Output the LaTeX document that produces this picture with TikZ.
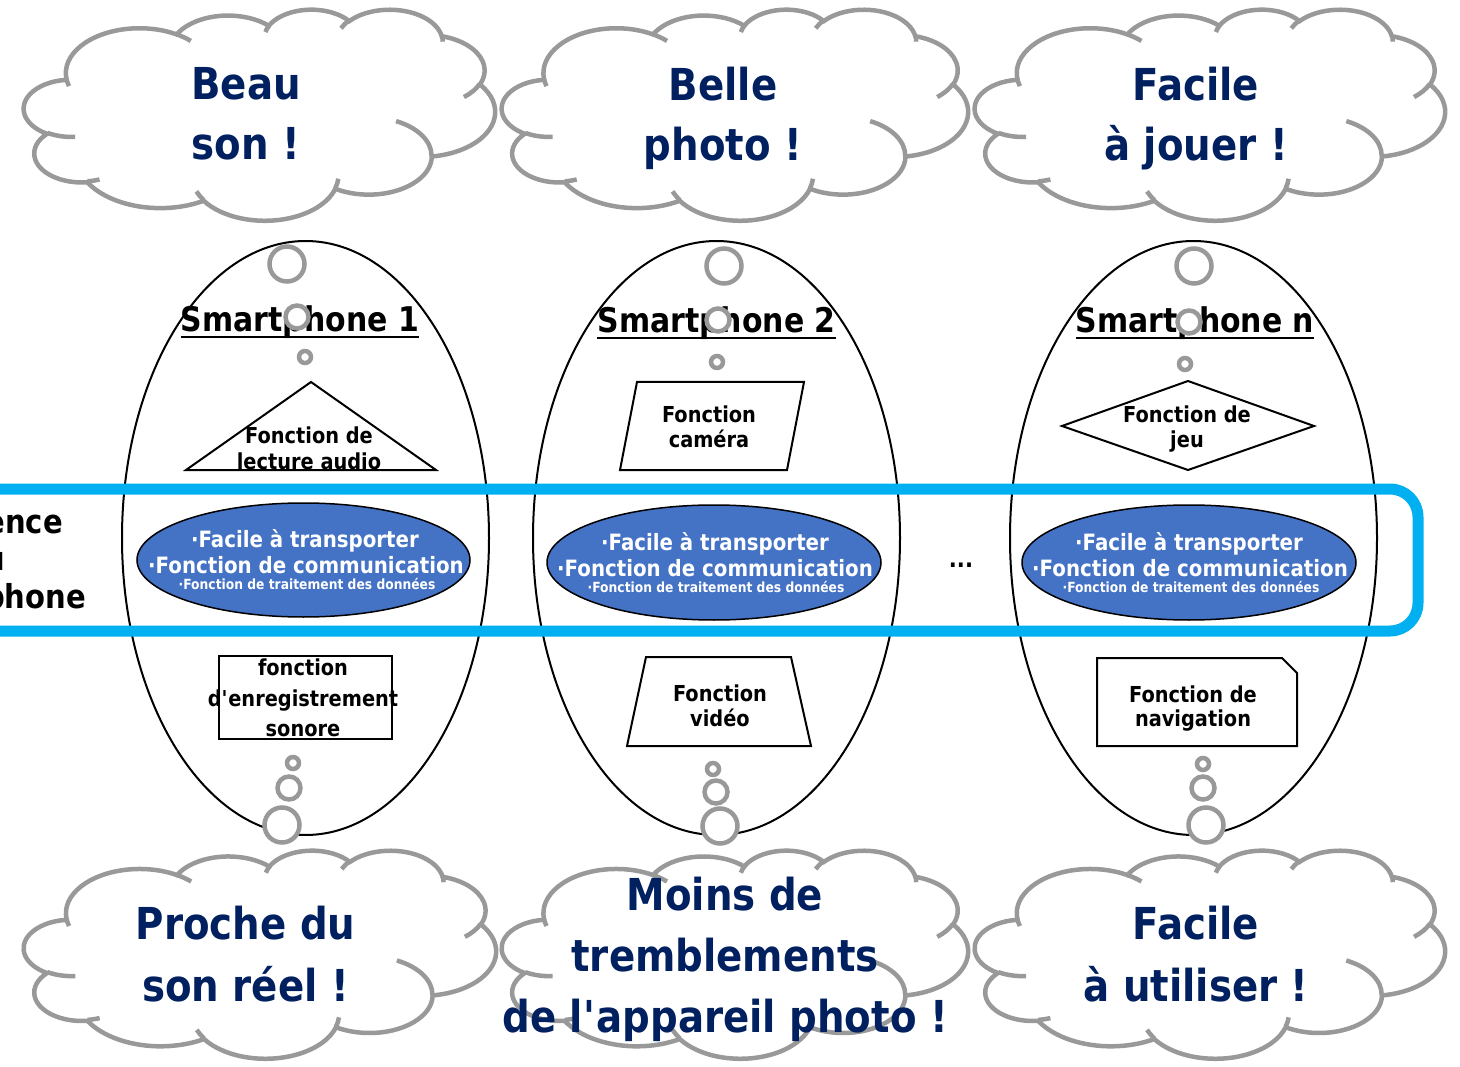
\documentclass[tikz,border=0pt]{standalone}
\usepackage{fontspec}
\setmainfont{DejaVu Sans}[FakeStretch=0.88]
\usetikzlibrary{shapes.geometric}
\definecolor{cgray}{HTML}{999999}
\definecolor{navy}{HTML}{002060}
\definecolor{pblue}{HTML}{4472C4}
\definecolor{cyanb}{HTML}{00B0F0}
% elliptical arc with OOXML "visual" angles
\newcommand\carc[4]{arc[x radius=#1, y radius=#2, start angle={atan2((#1)*sin(#3),(#2)*cos(#3))}, delta angle={mod(atan2((#1)*sin((#3)+(#4)),(#2)*cos((#3)+(#4)))-atan2((#1)*sin(#3),(#2)*cos(#3))+720,360)}]}
\newcommand\drawcloud[4]{%
\begin{scope}[shift={(#1,#2)}, xscale=#3/43.2, yscale=#4/43.2]
\draw[cloudline, fill=white] (3.9,14.37)
 \carc{6.753}{9.19}{-190.48748}{123.78053}
 \carc{5.333}{7.267}{-144.10238}{89.94523}
 \carc{4.365}{5.945}{-145.80792}{99.72302}
 \carc{4.857}{6.595}{-130.98607}{117.24173}
 \carc{5.333}{7.273}{-78.70888}{109.02692}
 \carc{6.775}{9.22}{-46.26725}{130.269}
 \carc{5.785}{7.867}{0.62502}{114.03333}
 \carc{6.752}{9.215}{22.4516}{115.17255}
 \carc{7.72}{10.543}{66.24263}{75.71102}
 \carc{4.36}{5.918}{-274.94208}{146.73557}
 \carc{4.345}{5.945}{-246.8285}{152.51885} -- cycle;
\draw[cloudline]
 (4.693,26.177) \carc{4.345}{5.945}{86.742}{26.4295}
 (6.928,34.899) \carc{4.36}{5.918}{73.6105}{11.4475}
 (16.478,39.09) \carc{6.752}{9.215}{137.6242}{14.0811}
 (28.827,34.751) \carc{6.752}{9.215}{6.4533}{15.9984}
 (34.129,22.954) \carc{5.785}{7.867}{-70.2924}{70.9174}
 (41.798,15.354) \carc{5.333}{7.273}{30.318}{27.7515}
 (38.324,5.426) \carc{4.857}{6.595}{-13.7443}{14.8589}
 (29.078,3.952) \carc{4.857}{6.595}{-149.1815}{18.1954}
 (22.141,4.72) \carc{4.365}{5.945}{-163.4943}{17.8371}
 (14,5.192) \carc{6.753}{9.19}{-66.707}{12.3194}
 (4.127,15.789) \carc{6.753}{9.19}{157.6544}{11.8582};
\end{scope}}
\begin{document}
\begin{tikzpicture}[x=1pt,y=-1pt,
  cloudline/.style={draw=cgray, line width=4.5pt},
  tailc/.style={draw=cgray, line width=4.5pt, fill=white},
  bigell/.style={draw=black, line width=2pt, ellipse, inner sep=0pt},
  blueell/.style={draw=black, line width=1.5pt, fill=pblue, ellipse, inner sep=0pt},
  fshape/.style={draw=black, line width=2pt, line join=miter},
  ctext/.style={text=navy, align=center, inner sep=0pt, font=\bfseries\fontsize{44}{60}\selectfont},
  ttext/.style={text=black, inner sep=0pt, anchor=base, font=\bfseries\fontsize{34}{38}\selectfont},
  stext/.style={text=black, align=center, inner sep=0pt, font=\bfseries\fontsize{22}{25}\selectfont},
  btext/.style={text=white, inner sep=0pt, anchor=base, font=\bfseries\fontsize{22.5}{26}\selectfont},
  bsmall/.style={text=white, inner sep=0pt, anchor=base, font=\bfseries\fontsize{14}{16}\selectfont},
  ltext/.style={text=black, inner sep=0pt, anchor=base east, font=\bfseries\fontsize{33}{38}\selectfont},
  uline/.style={draw=black, line width=1.5pt}]
\useasboundingbox (0,0) rectangle (1460,1067);
\fill[white] (0,0) rectangle (1460,1067);
\clip (0,0) rectangle (1460,1067);

% big ellipses
\node[bigell, minimum width=367pt, minimum height=594pt] (E1) at (305.5,538) {};
\node[bigell, minimum width=367pt, minimum height=594pt] (E2) at (716.5,538) {};
\node[bigell, minimum width=367pt, minimum height=594pt] (E3) at (1193.5,538) {};

% titles
\node[ttext] (T1) at (300,332) {Smartphone 1};
\node[ttext] (T2) at (716.5,333) {Smartphone 2};
\node[ttext] (T3) at (1195,333) {Smartphone n};
\foreach \t in {T1,T2,T3}
  \draw[uline] ([yshift=-5pt]\t.base west) -- ([yshift=-5pt]\t.base east);

% function shapes
\draw[fshape] (311,382) -- (436,470) -- (186,470) -- cycle;
\node[stext, font=\bfseries\fontsize{22}{26}\selectfont] (F1) at (309,448.7) {Fonction de\\lecture audio};
\draw[fshape] (637,382) -- (804,382) -- (787,470) -- (620,470) -- cycle;
\node[stext] (F2) at (709,426.7) {Fonction\\caméra};
\draw[fshape] (1188,381) -- (1314,426) -- (1188,470) -- (1062,426) -- cycle;
\node[stext] (F3) at (1187,428.8) {Fonction de\\jeu};
\draw[fshape] (219,656) rectangle (392,739);
\node[stext, font=\bfseries\fontsize{22}{30.5}\selectfont] (G1) at (303,698) {fonction\\d\textquotesingle{}enregistrement\\sonore};
\draw[fshape] (646,657) -- (791,657) -- (811,746) -- (627,746) -- cycle;
\node[stext] (G2) at (720,705.7) {Fonction\\vidéo};
\draw[fshape] (1097,658) -- (1282,658) -- (1297,673) -- (1297,746) -- (1097,746) -- cycle;
\node[stext, font=\bfseries\fontsize{22}{24}\selectfont] (G3) at (1193,708.3) {Fonction de\\navigation};

% cyan band
\draw[cyanb, line width=11pt, rounded corners=28pt] (-80,489) rectangle (1418,631);
\node[ltext] (L1) at (63,533) {Essence};
\node[ltext] (L2) at (5,570) {du};
\node[ltext] (L3) at (86,608) {Smartphone};

% blue ellipses
\node[blueell, minimum width=333pt, minimum height=114pt] (B1) at (303.5,560) {};
\node[blueell, minimum width=334pt, minimum height=115pt] (B2) at (714,562.5) {};
\node[blueell, minimum width=334pt, minimum height=115pt] (B3) at (1189,562.5) {};
\node[btext] (B1a) at (305,547) {·Facile à transporter};
\node[btext] (B1b) at (306,573) {·Fonction de communication};
\node[bsmall] (B1c) at (307,589) {·Fonction de traitement des données};
\node[btext] (B2a) at (715,550) {·Facile à transporter};
\node[btext] (B2b) at (715,576) {·Fonction de communication};
\node[bsmall] (B2c) at (716,592) {·Fonction de traitement des données};
\node[btext] (B3a) at (1189,550) {·Facile à transporter};
\node[btext] (B3b) at (1190,576) {·Fonction de communication};
\node[bsmall] (B3c) at (1191,592) {·Fonction de traitement des données};
\node[text=black, inner sep=0pt, font=\bfseries\fontsize{24}{28}\selectfont] (dots) at (961,565) {...};

% clouds
\drawcloud{24}{9}{471}{211}
\drawcloud{502}{9}{466}{211}
\drawcloud{975}{9}{470}{211}
\drawcloud{24}{850}{472}{208}
\drawcloud{502}{850}{466}{208}
\drawcloud{975}{850}{470}{208}
\node[ctext] (C1) at (246,114) {Beau\\son !};
\node[ctext] (C2) at (723,118.5) {Belle\\photo !};
\node[ctext] (C3) at (1196,118.5) {Facile\\à jouer !};
\node[ctext, font=\bfseries\fontsize{44}{62}\selectfont] (C4) at (245.5,954.3) {Proche du\\son réel !};
\node[ctext, font=\bfseries\fontsize{44}{61}\selectfont] (C5) at (725,959.5) {Moins de\\tremblements\\de l\textquotesingle{}appareil photo !};
\node[ctext, font=\bfseries\fontsize{44}{62}\selectfont] (C6) at (1196,954.3) {Facile\\à utiliser !};

% thought tails
\foreach \x/\y/\r in {287/264/17.5, 297/317/11.5, 305/357/6,
                      724/266/17.5, 718/320/11.5, 717/362/6,
                      1194/266/17.5, 1189/322/11.5, 1185/364/6,
                      293/763/6, 289/788/11.5, 282/825/17.5,
                      713/769/6, 716/792/11.5, 720/826/17.5,
                      1203/764/6, 1203/788/11.5, 1206/825/17.5}
  \draw[tailc] (\x,\y) circle[radius=\r pt];
\end{tikzpicture}
\end{document}
